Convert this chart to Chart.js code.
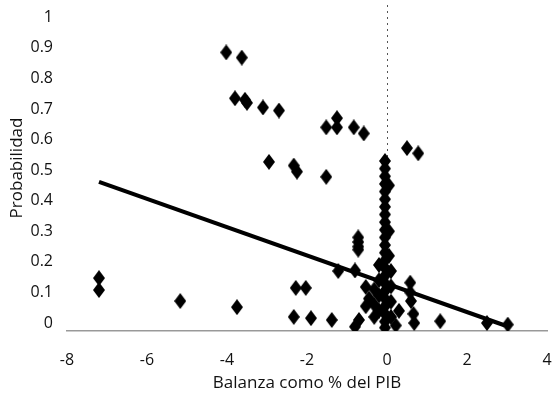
<!DOCTYPE html>
<html>
<head>
<meta charset="utf-8">
<script src="https://cdn.jsdelivr.net/npm/chart.js@4"></script>
<style>
  html, body { margin: 0; padding: 0; background: #fff; }
</style>
</head>
<body>
<canvas id="chart" width="553" height="393"></canvas>
<script>
// scatter values
const balanzaX = [
  -4.02, -3.63, -3.8, -3.55, -3.5, -3.1, -2.7, -2.95, -2.33, -2.25, -1.52, -1.52, -1.25, -1.25, -0.83, -0.58, 0.5, 0.78,
  -7.2, -7.2, -5.17, -3.75,
  -0.72, -0.72, -0.72, -0.72, -1.22, -0.8, -0.53, -2.28, -2.03, -2.33, -1.9, -1.38, -0.8, -0.7, -0.53, -0.45,
  0.22, 0.3, 0.58, 0.58, 0.6, 0.66, 0.68, 1.33, 2.5, 3.02,
  -0.05, -0.05, -0.05, -0.05, -0.05, -0.05, -0.05, -0.05, -0.05, -0.05, -0.05, -0.05,
  -0.05, -0.05, -0.05, -0.05, -0.05, -0.05, -0.05, -0.05, -0.05, -0.05, -0.05,
  -0.2, -0.2, -0.2, -0.2, 0.1, 0.1, 0.1, 0.1, -0.32, -0.32, -0.32, 0.05, 0.05, 0.05
];
const probY = [
  0.885, 0.868, 0.735, 0.73, 0.72, 0.705, 0.695, 0.527, 0.515, 0.495, 0.478, 0.64, 0.67, 0.64, 0.64, 0.62, 0.572, 0.555,
  0.147, 0.108, 0.072, 0.052,
  0.28, 0.265, 0.25, 0.24, 0.17, 0.172, 0.118, 0.115, 0.115, 0.02, 0.016, 0.01, -0.012, 0.01, 0.055, 0.08,
  -0.008, 0.04, 0.132, 0.1, 0.072, 0.03, 0.0, 0.006, 0.0, -0.005,
  0.53, 0.505, 0.48, 0.455, 0.43, 0.405, 0.38, 0.355, 0.33, 0.305, 0.28, 0.255,
  0.23, 0.205, 0.18, 0.155, 0.13, 0.105, 0.08, 0.055, 0.03, 0.005, -0.015,
  0.19, 0.14, 0.09, 0.04, 0.17, 0.12, 0.07, 0.02, 0.11, 0.06, 0.02, 0.22, 0.45, 0.3
];

// fitted line end points
const lineX = [-7.2, 2.95];
const lineY = [0.462, -0.008];

const xTicks = [-8, -6, -4, -2, 0, 2, 4];
const yTicks = [0, 0.1, 0.2, 0.3, 0.4, 0.5, 0.6, 0.7, 0.8, 0.9, 1];

// diamond marker, a bit taller than wide
const diamond = document.createElement('canvas');
diamond.width = 12;
diamond.height = 16;
const dctx = diamond.getContext('2d');
dctx.fillStyle = '#000';
dctx.beginPath();
dctx.moveTo(6, 0);
dctx.lineTo(12, 8);
dctx.lineTo(6, 16);
dctx.lineTo(0, 8);
dctx.closePath();
dctx.fill();

// dotted vertical line at x = 0
const zeroLine = {
  id: 'zeroLine',
  beforeDatasetsDraw(chart) {
    const { ctx, chartArea, scales } = chart;
    const px = Math.round(scales.x.getPixelForValue(0)) + 0.5;
    ctx.save();
    ctx.strokeStyle = '#555';
    ctx.lineWidth = 1;
    ctx.setLineDash([2, 4]);
    ctx.beginPath();
    ctx.moveTo(px, chartArea.top);
    ctx.lineTo(px, chartArea.bottom);
    ctx.stroke();
    ctx.restore();
  }
};

// no extra room for edge labels, keep the plot box fixed
function noPad(s) {
  s.paddingTop = 0;
  s.paddingBottom = 0;
  s.paddingLeft = 0;
  s.paddingRight = 0;
}

const tickFont = { family: 'Open Sans', size: 16 };
const titleFont = { family: 'Open Sans', size: 17 };

new Chart(document.getElementById('chart'), {
  type: 'scatter',
  data: {
    datasets: [
      {
        type: 'line',
        data: lineX.map((x, i) => ({ x: x, y: lineY[i] })),
        borderColor: '#000',
        borderWidth: 4,
        pointRadius: 0,
        fill: false
      },
      {
        data: balanzaX.map((x, i) => ({ x: x, y: probY[i] })),
        pointStyle: diamond,
        backgroundColor: '#000'
      }
    ]
  },
  plugins: [zeroLine],
  options: {
    responsive: false,
    animation: false,
    layout: { padding: { top: 5, right: 6, left: 0, bottom: 0 } },
    plugins: {
      legend: { display: false },
      tooltip: { enabled: false }
    },
    scales: {
      x: {
        type: 'linear',
        min: -8,
        max: 4,
        afterFit: s => { s.height = 62; noPad(s); },
        afterBuildTicks: s => { s.ticks = xTicks.map(v => ({ value: v })); },
        grid: { display: false },
        border: { display: true, color: '#999', width: 1.5 },
        ticks: { font: tickFont, color: '#111', padding: 12 },
        title: {
          display: true,
          text: 'Balanza como % del PIB',
          font: titleFont,
          color: '#111',
          padding: { top: 0, bottom: 0 }
        }
      },
      y: {
        type: 'linear',
        min: -0.026,
        max: 1.04,
        afterFit: s => { s.width = 67; noPad(s); },
        afterBuildTicks: s => { s.ticks = yTicks.map(v => ({ value: v })); },
        grid: { display: false },
        border: { display: false },
        ticks: {
          font: tickFont,
          color: '#111',
          padding: 6,
          callback: v => String(v)
        },
        title: {
          display: true,
          text: 'Probabilidad',
          font: titleFont,
          color: '#111',
          padding: { top: 7, bottom: 0 }
        }
      }
    }
  }
});
</script>
</body>
</html>
